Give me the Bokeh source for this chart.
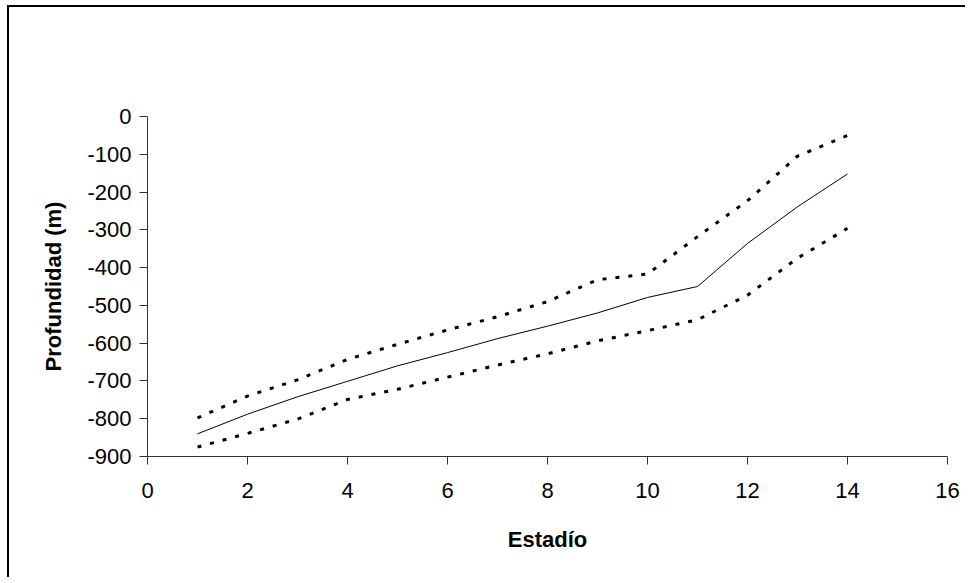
from bokeh.plotting import figure
from bokeh.embed import file_html
from bokeh.resources import INLINE
from bokeh.models import Range1d, FixedTicker

estadio = [1, 2, 3, 4, 5, 6, 7, 8, 9, 10, 11, 12, 13, 14]
profundidad_media = [-840, -788, -742, -701, -660, -625, -588, -555, -520, -479, -450, -336, -239, -152]
profundidad_superior = [-798, -740, -697, -643, -603, -565, -530, -490, -432, -417, -318, -223, -105, -50]
profundidad_inferior = [-875, -839, -801, -749, -722, -690, -658, -628, -594, -567, -538, -473, -375, -296]

x_ticks = [0, 2, 4, 6, 8, 10, 12, 14, 16]
y_ticks = [0, -100, -200, -300, -400, -500, -600, -700, -800, -900]

p = figure(width=958, height=572, output_backend="svg", toolbar_location=None,
           x_range=Range1d(0, 16), y_range=Range1d(-900, 0),
           min_border_left=138, min_border_right=20, min_border_top=109, min_border_bottom=123)

p.styles = {"border-top": "2px solid #000000", "border-left": "2px solid #000000",
            "margin-left": "7px", "margin-top": "5px"}

p.outline_line_color = None
p.xgrid.visible = False
p.ygrid.visible = False
p.background_fill_color = "white"
p.border_fill_color = "white"

p.line(estadio, profundidad_superior, line_color="black", line_width=3, line_dash="4 9")
p.line(estadio, profundidad_inferior, line_color="black", line_width=3, line_dash="4 9")
p.line(estadio, profundidad_media, line_color="black", line_width=1)

for ax in (p.xaxis[0], p.yaxis[0]):
    ax.axis_line_color = "#333333"
    ax.major_tick_line_color = "#333333"
    ax.minor_tick_line_color = None
    ax.major_tick_in = 0
    ax.major_tick_out = 8
    ax.major_label_text_font = "Liberation Sans"
    ax.major_label_text_font_size = "22px"
    ax.major_label_text_color = "black"
    ax.axis_label_text_font = "Liberation Sans"
    ax.axis_label_text_font_size = "22px"
    ax.axis_label_text_font_style = "bold"
    ax.axis_label_text_color = "black"

p.xaxis.ticker = FixedTicker(ticks=x_ticks)
p.yaxis.ticker = FixedTicker(ticks=y_ticks)
p.yaxis.major_label_overrides = {v: str(v) for v in y_ticks}
p.xaxis.major_label_overrides = {v: str(v) for v in x_ticks}
p.xaxis.axis_label = "Estadío"
p.yaxis.axis_label = "Profundidad (m)"
p.xaxis.major_label_standoff = 18
p.yaxis.major_label_standoff = 8
p.xaxis.axis_label_standoff = 26
p.yaxis.axis_label_standoff = 18

open("out.html", "w").write(file_html(p, INLINE))
